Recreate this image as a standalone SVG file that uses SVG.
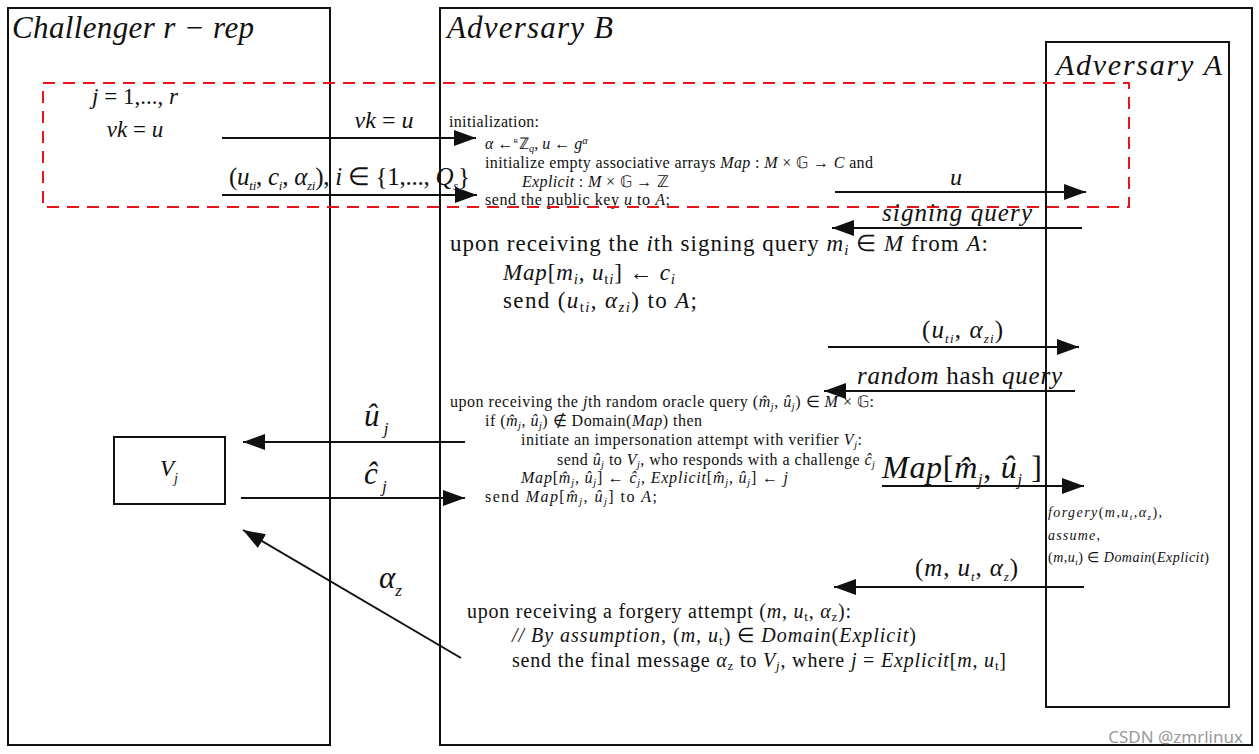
<svg xmlns="http://www.w3.org/2000/svg" width="1259" height="754" viewBox="0 0 1259 754">
<defs>
<style>
text{font-family:"Liberation Serif","Times New Roman",serif;fill:#111}
.i{font-style:italic}
.box{fill:none;stroke:#111;stroke-width:2}
.ln{stroke:#111;stroke-width:2;fill:none}
.big{marker-end:url(#ah)}
.sub{font-size:65%}
</style>
<marker id="ah" markerUnits="userSpaceOnUse" markerWidth="22" markerHeight="16" refX="22" refY="8" orient="auto"><path d="M0,0 L22,8 L0,16 z" fill="#111"/></marker>
</defs>
<rect width="1259" height="754" fill="#fff"/>

<g id="challenger">
<rect class="box" x="8" y="8" width="322" height="737"/>
<text class="i" x="12" y="38" font-size="31" textLength="242">Challenger r − rep</text>
<text x="135" y="104" font-size="23" text-anchor="middle"><tspan class="i">j</tspan> = 1,..., <tspan class="i">r</tspan></text>
<text x="135" y="137" font-size="23" text-anchor="middle"><tspan class="i">vk</tspan> = <tspan class="i">u</tspan></text>
</g>

<g id="adversaryB">
<rect class="box" x="440" y="8" width="812" height="737"/>
<text class="i" x="447" y="38" font-size="31" textLength="166">Adversary  B</text>
<g font-size="16">
<text x="449" y="127" textLength="90">initialization:</text>
<text x="485" y="149"><tspan class="i">α</tspan> ←<tspan font-size="7" dy="-6">R</tspan><tspan dx="1" dy="6">ℤ</tspan><tspan class="i sub" dy="3">q</tspan><tspan dy="-3">, </tspan><tspan class="i">u</tspan> ← <tspan class="i">g</tspan><tspan class="i sub" dy="-5">α</tspan></text>
<text x="485" y="168" textLength="388">initialize empty associative arrays <tspan class="i">Map</tspan> : <tspan class="i">M</tspan> × 𝔾 → <tspan class="i">C</tspan> and</text>
<text x="522" y="187" textLength="147"><tspan class="i">Explicit</tspan> : <tspan class="i">M</tspan> × 𝔾 → ℤ</text>
<text x="485" y="205" textLength="185">send the public key <tspan class="i">u</tspan> to <tspan class="i">A</tspan>;</text>
</g>
<g font-size="23">
<text x="450" y="251" textLength="538">upon receiving the <tspan class="i">i</tspan>th signing query <tspan class="i">m</tspan><tspan class="i sub" dy="4">i</tspan><tspan dy="-4"> ∈ </tspan><tspan class="i">M</tspan> from <tspan class="i">A</tspan>:</text>
<text x="503" y="280" textLength="172"><tspan class="i">Map</tspan>[<tspan class="i">m</tspan><tspan class="i sub" dy="4">i</tspan><tspan dy="-4">, </tspan><tspan class="i">u</tspan><tspan class="sub" dy="4">t<tspan class="i">i</tspan></tspan><tspan dy="-4">] ← </tspan><tspan class="i">c</tspan><tspan class="i sub" dy="4">i</tspan></text>
<text x="503" y="308" textLength="194">send (<tspan class="i">u</tspan><tspan class="sub" dy="4">t<tspan class="i">i</tspan></tspan><tspan dy="-4">, </tspan><tspan class="i">α</tspan><tspan class="i sub" dy="4">zi</tspan><tspan dy="-4">) to </tspan><tspan class="i">A</tspan>;</text>
</g>
<g font-size="16">
<text x="450" y="407" textLength="424">upon receiving the <tspan class="i">j</tspan>th random oracle query (<tspan class="i">m̂</tspan><tspan class="i sub" dy="3">j</tspan><tspan dy="-3">, </tspan><tspan class="i">û</tspan><tspan class="i sub" dy="3">j</tspan><tspan dy="-3">) ∈ </tspan><tspan class="i">M</tspan> × 𝔾:</text>
<text x="485" y="426" textLength="217">if (<tspan class="i">m̂</tspan><tspan class="i sub" dy="3">j</tspan><tspan dy="-3">, </tspan><tspan class="i">û</tspan><tspan class="i sub" dy="3">j</tspan><tspan dy="-3">) ∉ Domain(</tspan><tspan class="i">Map</tspan>) then</text>
<text x="521" y="445" textLength="341">initiate an impersonation attempt with verifier <tspan class="i">V</tspan><tspan class="i sub" dy="3">j</tspan><tspan dy="-3">:</tspan></text>
<text x="557" y="465" textLength="318">send <tspan class="i">û</tspan><tspan class="i sub" dy="3">j</tspan><tspan dy="-3"> to </tspan><tspan class="i">V</tspan><tspan class="i sub" dy="3">j</tspan><tspan dy="-3">, who responds with a challenge </tspan><tspan class="i">ĉ</tspan><tspan class="i sub" dy="3">j</tspan></text>
<text x="521" y="483" textLength="267"><tspan class="i">Map</tspan>[<tspan class="i">m̂</tspan><tspan class="i sub" dy="3">j</tspan><tspan dy="-3">, </tspan><tspan class="i">û</tspan><tspan class="i sub" dy="3">j</tspan><tspan dy="-3">] ← </tspan><tspan class="i">ĉ</tspan><tspan class="i sub" dy="3">j</tspan><tspan dy="-3">,   </tspan><tspan class="i">Explicit</tspan>[<tspan class="i">m̂</tspan><tspan class="i sub" dy="3">j</tspan><tspan dy="-3">, </tspan><tspan class="i">û</tspan><tspan class="i sub" dy="3">j</tspan><tspan dy="-3">] ← </tspan><tspan class="i">j</tspan></text>
<text x="485" y="502" textLength="172">send <tspan class="i">Map</tspan>[<tspan class="i">m̂</tspan><tspan class="i sub" dy="3">j</tspan><tspan dy="-3">, </tspan><tspan class="i">û</tspan><tspan class="i sub" dy="3">j</tspan><tspan dy="-3">] to </tspan><tspan class="i">A</tspan>;</text>
</g>
<g font-size="20">
<text x="467" y="618" textLength="384">upon receiving a forgery attempt (<tspan class="i">m</tspan>, <tspan class="i">u</tspan><tspan class="sub" dy="3">t</tspan><tspan dy="-3">, </tspan><tspan class="i">α</tspan><tspan class="sub" dy="3">z</tspan><tspan dy="-3">):</tspan></text>
<text x="512" y="642" class="i" textLength="404">//  By assumption, <tspan font-style="normal">(</tspan>m, u<tspan class="sub" font-style="normal" dy="3">t</tspan><tspan font-style="normal" dy="-3">) ∈ </tspan>Domain<tspan font-style="normal">(</tspan>Explicit<tspan font-style="normal">)</tspan></text>
<text x="512" y="667" textLength="494">send the final message <tspan class="i">α</tspan><tspan class="sub" dy="3">z</tspan><tspan dy="-3"> to </tspan><tspan class="i">V</tspan><tspan class="i sub" dy="3">j</tspan><tspan dy="-3">, where </tspan><tspan class="i">j</tspan> = <tspan class="i">Explicit</tspan>[<tspan class="i">m</tspan>, <tspan class="i">u</tspan><tspan class="sub" dy="3">t</tspan><tspan dy="-3">]</tspan></text>
</g>
</g>

<g id="adversaryA">
<rect class="box" x="1046" y="42" width="183" height="665"/>
<text class="i" x="1056" y="75" font-size="30" textLength="166">Adversary  A</text>
<g font-size="14" class="i">
<text x="1048" y="517" textLength="114">forgery<tspan font-style="normal">(</tspan>m<tspan font-style="normal">,</tspan>u<tspan class="sub" dy="3">t</tspan><tspan font-style="normal" dy="-3">,</tspan>α<tspan class="sub" dy="3">z</tspan><tspan font-style="normal" dy="-3">),</tspan></text>
<text x="1048" y="540" textLength="52">assume<tspan font-style="normal">,</tspan></text>
<text x="1048" y="562" textLength="161"><tspan font-style="normal">(</tspan>m<tspan font-style="normal">,</tspan>u<tspan class="sub" dy="3">t</tspan><tspan font-style="normal" dy="-3">) ∈ </tspan>Domain<tspan font-style="normal">(</tspan>Explicit<tspan font-style="normal">)</tspan></text>
</g>
</g>

<g id="verifier">
<rect class="box" x="114" y="437" width="111" height="67"/>
<text x="160" y="476" font-size="23"><tspan class="i">V</tspan><tspan class="i" font-size="14" dy="7">j</tspan></text>
</g>

<g id="init-box">
<rect x="43" y="83" width="1086" height="124" fill="none" stroke="#e8141b" stroke-width="2" stroke-dasharray="12,8"/>
</g>

<g id="connectors">
<line class="ln big" x1="222" y1="138" x2="476" y2="138"/>
<line class="ln big" x1="222" y1="195" x2="477" y2="195"/>
<line class="ln big" x1="835" y1="192" x2="1086" y2="192"/>
<line class="ln big" x1="1082" y1="228" x2="832" y2="228"/>
<line class="ln big" x1="828" y1="347" x2="1079" y2="347"/>
<line class="ln big" x1="1075" y1="391" x2="824" y2="391"/>
<line class="ln big" x1="465" y1="442" x2="243" y2="442"/>
<line class="ln big" x1="241" y1="498" x2="465" y2="498"/>
<line class="ln big" x1="882" y1="486" x2="1084" y2="486"/>
<line class="ln big" x1="1084" y1="587" x2="834" y2="587"/>
<line class="ln big" x1="461" y1="658" x2="243" y2="530"/>
</g>

<g id="labels">
<text x="384" y="128" font-size="24" text-anchor="middle"><tspan class="i">vk</tspan> = <tspan class="i">u</tspan></text>
<text x="229" y="185" font-size="25" textLength="241">(<tspan class="i">u</tspan><tspan class="i" font-size="13" dy="5">ti</tspan><tspan dy="-5">, </tspan><tspan class="i">c</tspan><tspan class="i" font-size="13" dy="5">i</tspan><tspan dy="-5">, </tspan><tspan class="i">α</tspan><tspan class="i" font-size="13" dy="5">zi</tspan><tspan dy="-5">), </tspan><tspan class="i">i</tspan> ∈ {1,..., <tspan class="i">Q</tspan><tspan class="i" font-size="13" dy="5">s</tspan><tspan dy="-5">}</tspan></text>
<text x="956" y="185" font-size="24" class="i" text-anchor="middle">u</text>
<text x="882" y="221" font-size="25" class="i" textLength="150">signing  query</text>
<text x="922" y="338" font-size="25" textLength="81">(<tspan class="i">u</tspan><tspan class="i" font-size="13" dy="5">ti</tspan><tspan dy="-5">, </tspan><tspan class="i">α</tspan><tspan class="i" font-size="13" dy="5">zi</tspan><tspan dy="-5">)</tspan></text>
<text x="857" y="384" font-size="25" textLength="205"><tspan class="i">random</tspan> hash  <tspan class="i">query</tspan></text>
<text x="882" y="478" font-size="32" textLength="160"><tspan class="i">Map</tspan>[<tspan class="i">m̂</tspan><tspan class="i" font-size="16" dy="7">j</tspan><tspan dy="-7">, </tspan><tspan class="i">û</tspan><tspan class="i" font-size="16" dy="7">j</tspan><tspan dy="-7"> ]</tspan></text>
<text x="915" y="576" font-size="25" textLength="103">(<tspan class="i">m</tspan>, <tspan class="i">u</tspan><tspan class="i" font-size="13" dy="5">t</tspan><tspan dy="-5">, </tspan><tspan class="i">α</tspan><tspan class="i" font-size="13" dy="5">z</tspan><tspan dy="-5">)</tspan></text>
<text x="364" y="426" font-size="31"><tspan class="i">û</tspan><tspan class="i" font-size="17" dy="8"> j</tspan></text>
<text x="364" y="484" font-size="31"><tspan class="i">ĉ</tspan><tspan class="i" font-size="17" dy="8"> j</tspan></text>
<text x="379" y="588" font-size="31"><tspan class="i">α</tspan><tspan class="i" font-size="17" dy="8">z</tspan></text>
</g>

<text x="1243" y="743" font-size="17" text-anchor="end" style="font-family:'Noto Sans','DejaVu Sans',sans-serif;fill:#9a9a9a">CSDN @zmrlinux</text>
</svg>
